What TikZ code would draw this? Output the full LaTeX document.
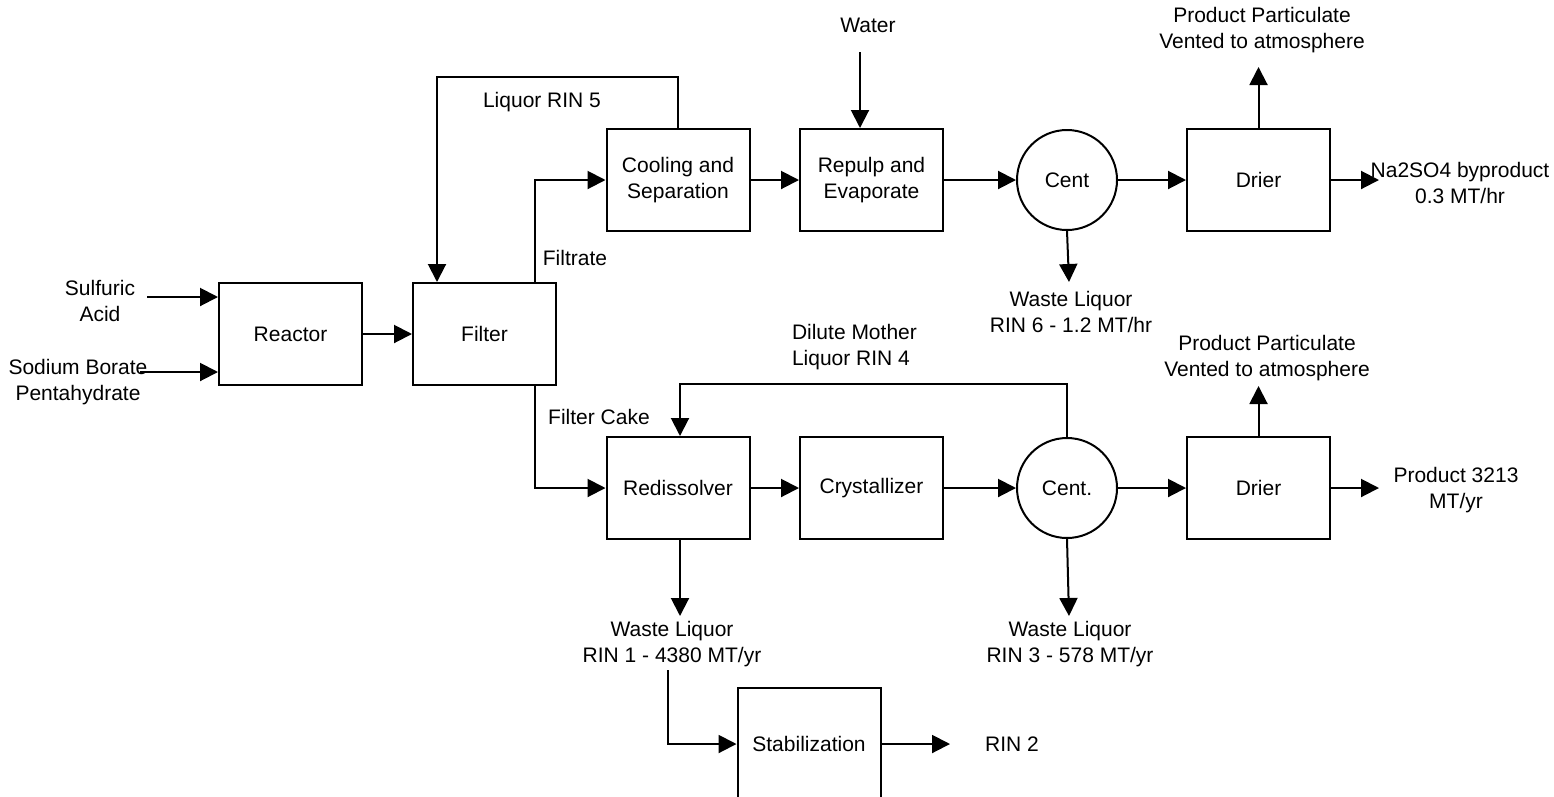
\documentclass[tikz,border=0pt]{standalone}
\usepackage{fontspec}
\setmainfont{Liberation Sans}
\usetikzlibrary{arrows.meta, positioning}

\begin{document}
\begin{tikzpicture}[x=1pt, y=-1pt, line width=2pt,
		font=\fontsize{21}{26}\selectfont,
		unit/.style={draw, minimum width=143pt, minimum height=102pt, align=center},
		cent/.style={draw, circle, minimum size=100pt, inner sep=0pt},
		lbl/.style={align=center, inner sep=0pt},
		flow/.style={-{Triangle[length=18pt, width=18pt]}}]
	\useasboundingbox (0,0) rectangle (1554,796);
	% Units:
	\node[unit] (reactor) at (290.5,334) {Reactor};
	\node[unit] (filter) at (484.5,334) {Filter};
	\node[unit] (cool) at (678,180) {Cooling and\\Separation};
	\node[unit] (repulp) at (871.5,180) {Repulp and\\Evaporate};
	\node[cent] (centA) at (1067,180) {Cent};
	\node[unit] (drierA) at (1258.5,180) {Drier};
	\node[unit] (redis) at (678,488) {Redissolver};
	\node[unit] (cryst) at (871.5,488) {Crystallizer};
	\node[cent] (centB) at (1067,488) {Cent.};
	\node[unit] (drierB) at (1258.5,488) {Drier};
	\node[unit, minimum height=112pt] (stab) at (809,744) {Stabilization};
	% Labels:
	\node[lbl] (sulf) at (100,301) {Sulfuric\\Acid};
	\node[lbl] (sodium) at (78,382) {Sodium Borate\\Pentahydrate};
	\node[lbl] (liqA) at (542,102) {Liquor RIN 5};
	\node[lbl] (filtr) at (575,258) {Filtrate};
	\node[lbl] (water) at (868,25) {Water};
	\node[lbl] (ventA) at (1262,30) {Product Particulate\\Vented to atmosphere};
	\node[lbl] (na) at (1460,183) {Na2SO4 byproduct\\0.3 MT/hr};
	\node[lbl] (wasteA) at (1071,312) {Waste Liquor\\RIN 6 - 1.2 MT/hr};
	\node[lbl] (cake) at (599,417) {Filter Cake};
	\node[lbl, align=left, anchor=west] (dil) at (791,347) {Dilute Mother\\Liquor RIN 4};
	\node[lbl] (ventB) at (1267,358) {Product Particulate\\Vented to atmosphere};
	\node[lbl] (prod) at (1456,490) {Product 3213\\MT/yr};
	\node[lbl] (wasteB) at (1070,644) {Waste Liquor\\RIN 3 - 578 MT/yr};
	\node[lbl] (wasteC) at (672,644) {Waste Liquor\\RIN 1 - 4380 MT/yr};
	\node[lbl] (rin2) at (1012,744) {RIN 2};
	% Free ends:
	\coordinate (sulfin) at (147,297);
	\coordinate (sodin) at (140,372);
	\coordinate (watin) at (860,52);
	\coordinate (ventAtip) at (1258.5,67);
	\coordinate (naout) at (1379,180);
	\coordinate (wasteAtip) at (1069,282);
	\coordinate (ventBtip) at (1258.5,386);
	\coordinate (prodout) at (1379,488);
	\coordinate (wasteBtip) at (1069,616);
	\coordinate (wasteCtip) at (680,616);
	\coordinate (stabin) at (668,670);
	\coordinate (stabout) at (950,744);
	% Flows:
	\draw[flow] (sulfin) -- (sulfin -| reactor.west);
	\draw[flow] (sodin) -- (sodin -| reactor.west);
	\draw[flow] (reactor) -- (filter);
	\draw[flow] ([xshift=-22pt]filter.north east) |- (cool.west);
	\draw[flow] (cool.north) -- ++(0,-51) -| ([xshift=25pt]filter.north west);
	\draw[flow] (cool) -- (repulp);
	\draw[flow] (watin) -- (watin |- repulp.north);
	\draw[flow] (repulp) -- (centA);
	\draw[flow] (centA) -- (drierA);
	\draw[flow] (drierA.north) -- (ventAtip);
	\draw[flow] (drierA.east) -- (naout);
	\draw[flow] (centA.south) -- (wasteAtip);
	\draw[flow] ([xshift=-22pt]filter.south east) |- (redis.west);
	\draw[flow] (redis) -- (cryst);
	\draw[flow] (cryst) -- (centB);
	\draw[flow] (centB) -- (drierB);
	\draw[flow] (centB.north) -- ++(0,-53) -| ([xshift=2pt]redis.north);
	\draw[flow] (drierB.north) -- (ventBtip);
	\draw[flow] (drierB.east) -- (prodout);
	\draw[flow] (centB.south) -- (wasteBtip);
	\draw[flow] ([xshift=2pt]redis.south) -- (wasteCtip);
	\draw[flow] (stabin) |- (stab.west);
	\draw[flow] (stab.east) -- (stabout);
\end{tikzpicture}
\end{document}
